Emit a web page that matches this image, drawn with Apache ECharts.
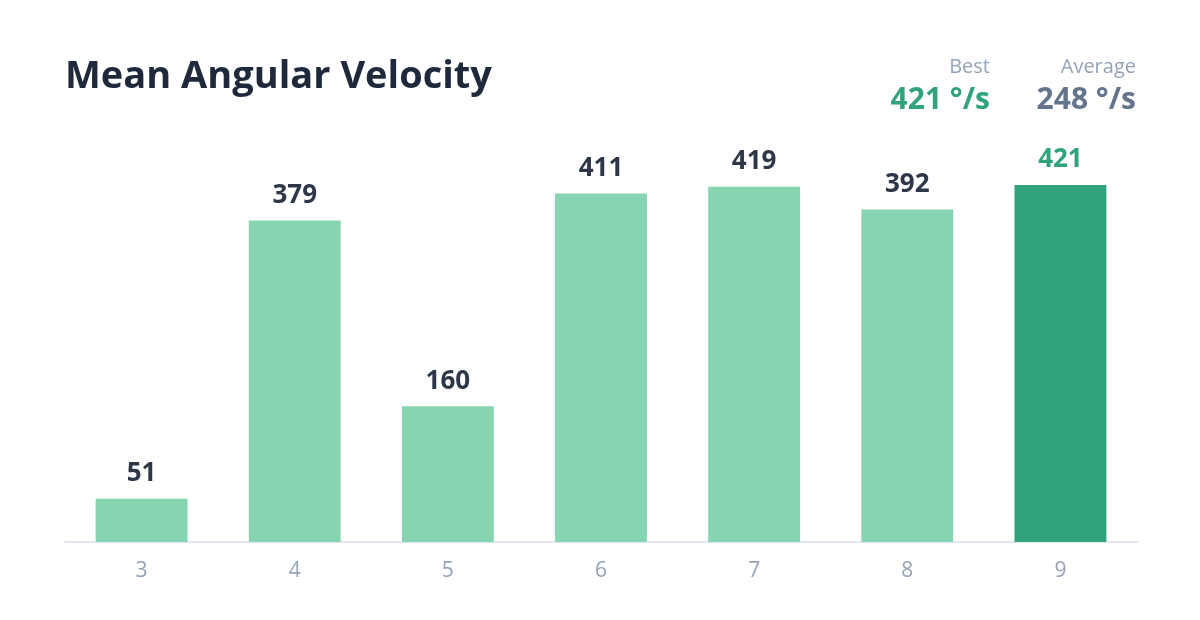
<!DOCTYPE html>
<html>
<head>
<meta charset="utf-8">
<script src="https://cdn.jsdelivr.net/npm/echarts@6/dist/echarts.min.js"></script>
<style>
html,body{margin:0;padding:0;background:#fff;}
#chart{width:1200px;height:620px;}
</style>
</head>
<body>
<div id="chart"></div>
<script>
const categories = ['3', '4', '5', '6', '7', '8', '9'];
const values = [51, 379, 160, 411, 419, 392, 421];
const titleText = 'Mean Angular Velocity';
const bestLabel = 'Best';
const bestValue = '421 °/s';
const avgLabel = 'Average';
const avgValue = '248 °/s';

const FONT = '"Open Sans", "Noto Sans", sans-serif';
const LIGHT = '#86d5b0';
const DARK = '#31a37b';
const maxV = Math.max(...values);

const chart = echarts.init(document.getElementById('chart'), null, {renderer: 'canvas'});
const data = values.map(v => v === maxV ? {
  value: v,
  itemStyle: {color: DARK},
  label: {color: DARK}
} : {value: v});

chart.setOption({
  backgroundColor: '#ffffff',
  animation: false,
  title: {
    text: titleText,
    left: 60,
    top: 53,
    textStyle: {fontFamily: FONT, fontSize: 38, fontWeight: 'bold', color: '#1e293b'}
  },
  graphic: [
    {type: 'text', right: 210, top: 57, style: {text: bestLabel, font: '20px ' + FONT, fill: '#94a3b8', textAlign: 'right'}},
    {type: 'text', right: 210, top: 85, style: {text: bestValue, font: 'bold 30px ' + FONT, fill: DARK, textAlign: 'right'}},
    {type: 'text', right: 64, top: 57, style: {text: avgLabel, font: '20px ' + FONT, fill: '#94a3b8', textAlign: 'right'}},
    {type: 'text', right: 64, top: 85, style: {text: avgValue, font: 'bold 30px ' + FONT, fill: '#64748b', textAlign: 'right'}}
  ],
  grid: {left: 65, right: 63, top: 185, bottom: 78, containLabel: false},
  xAxis: {
    type: 'category',
    data: categories,
    axisLine: {lineStyle: {color: '#e2e8f0', width: 2}},
    axisTick: {show: false},
    axisLabel: {color: '#94a3b8', fontSize: 21, fontFamily: FONT, margin: 19}
  },
  yAxis: {
    type: 'value',
    min: 0,
    max: maxV,
    show: false,
    splitLine: {show: false}
  },
  series: [{
    type: 'bar',
    data: data,
    barWidth: '60%',
    itemStyle: {color: LIGHT},
    label: {
      show: true,
      position: 'top',
      distance: 12,
      color: '#2d3748',
      fontSize: 26,
      fontWeight: 'bold',
      fontFamily: FONT
    }
  }]
});
</script>
</body>
</html>
